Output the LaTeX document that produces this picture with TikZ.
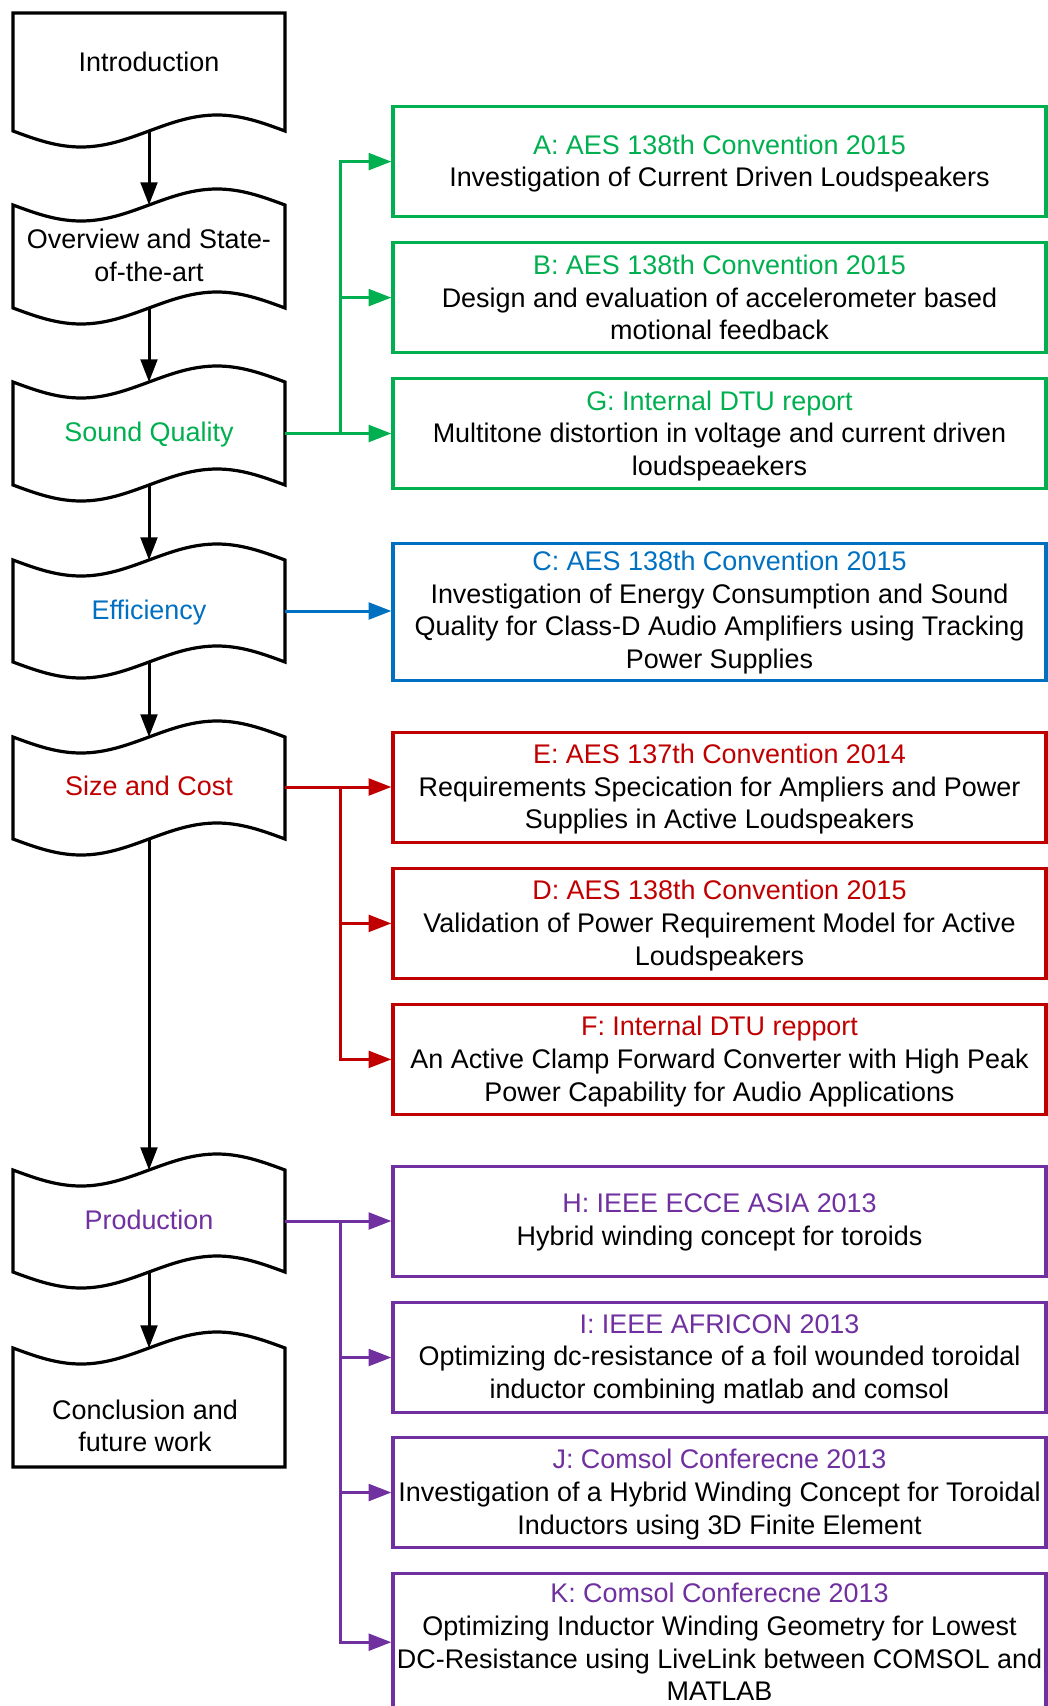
\documentclass[tikz,border=0pt]{standalone}
\usepackage{fontspec}
\setmainfont{Liberation Sans}
\usetikzlibrary{arrows.meta}
\definecolor{cgreen}{HTML}{00B050}
\definecolor{cblue}{HTML}{0070C0}
\definecolor{cred}{HTML}{C00000}
\definecolor{cpurple}{HTML}{7030A0}
\begin{document}
\begin{tikzpicture}[x=0.75pt,y=-0.75pt,
  every node/.style={font=\fontsize{20.2pt}{24.5pt}\selectfont},
  shapeline/.style={draw=black,line width=2.4pt,fill=white},
  lbl/.style={align=center,inner sep=0pt},
  paper/.style={draw=#1,line width=2.4pt,rectangle,minimum width=489.75pt,minimum height=82.5pt,inner sep=0pt},
  tall/.style={minimum height=102.75pt},
  con/.style={line width=2.25pt,draw=#1,-{Triangle[length=17pt,width=12.5pt]}}
]
\useasboundingbox (0,0) rectangle (1048,1706);
\def\A{16}
% ---- left flow shapes ----
% Introduction
\draw[shapeline] (13,13) -- (285,13) -- (285,131) sin (217,131-\A) cos (149,131) sin (81,131+\A) cos (13,131) -- cycle;
\node[lbl] (intro) at (149,62) {Introduction};
\coordinate (introB) at (149,131);
% Overview
\draw[shapeline] (13,205) sin (81,205+\A) cos (149,205) sin (217,205-\A) cos (285,205) -- (285,308) sin (217,308-\A) cos (149,308) sin (81,308+\A) cos (13,308) -- cycle;
\node[lbl] (over) at (149,255.5) {Overview and State-\\of-the-art};
\coordinate (overT) at (149,205);
\coordinate (overB) at (149,308);
% Sound Quality
\draw[shapeline] (13,382) sin (81,382+\A) cos (149,382) sin (217,382-\A) cos (285,382) -- (285,485) sin (217,485-\A) cos (149,485) sin (81,485+\A) cos (13,485) -- cycle;
\node[lbl,text=cgreen] (sq) at (149,435) {Sound Quality};
\coordinate (sqT) at (149,382);
\coordinate (sqB) at (149,485);
\coordinate (sqR) at (285,433.5);
% Efficiency
\draw[shapeline] (13,560) sin (81,560+\A) cos (149,560) sin (217,560-\A) cos (285,560) -- (285,662) sin (217,662-\A) cos (149,662) sin (81,662+\A) cos (13,662) -- cycle;
\node[lbl,text=cblue] (eff) at (149,613) {Efficiency};
\coordinate (effT) at (149,560);
\coordinate (effB) at (149,662);
\coordinate (effR) at (285,611);
% Size and Cost
\draw[shapeline] (13,737) sin (81,737+\A) cos (149,737) sin (217,737-\A) cos (285,737) -- (285,839) sin (217,839-\A) cos (149,839) sin (81,839+\A) cos (13,839) -- cycle;
\node[lbl,text=cred] (size) at (149,786) {Size and Cost};
\coordinate (sizeT) at (149,737);
\coordinate (sizeB) at (149,839);
\coordinate (sizeR) at (285,787);
% Production
\draw[shapeline] (13,1170) sin (81,1170+\A) cos (149,1170) sin (217,1170-\A) cos (285,1170) -- (285,1272) sin (217,1272-\A) cos (149,1272) sin (81,1272+\A) cos (13,1272) -- cycle;
\node[lbl,text=cpurple] (prod) at (149,1220) {Production};
\coordinate (prodT) at (149,1170);
\coordinate (prodB) at (149,1272);
\coordinate (prodR) at (285,1221);
% Conclusion
\draw[shapeline] (13,1348) sin (81,1348+\A) cos (149,1348) sin (217,1348-\A) cos (285,1348) -- (285,1467) -- (13,1467) -- cycle;
\node[lbl] (concl) at (145,1426) {Conclusion and\\future work};
\coordinate (conclT) at (149,1348);

% ---- vertical arrows ----
\draw[con=black] (introB) -- (overT);
\draw[con=black] (overB) -- (sqT);
\draw[con=black] (sqB) -- (effT);
\draw[con=black] (effB) -- (sizeT);
\draw[con=black] (sizeB) -- (prodT);
\draw[con=black] (prodB) -- (conclT);

% ---- right boxes ----
\node[paper=cgreen] (A) at (719.5,161.6) {};
\node[lbl] (At) at ([yshift=-1.5pt]A.center) {\textcolor{cgreen}{A: AES 138th Convention 2015}\\Investigation of Current Driven Loudspeakers};
\node[paper=cgreen] (B) at (719.5,297.6) {};
\node[lbl] (Bt) at ([yshift=0pt]B.center) {\textcolor{cgreen}{B: AES 138th Convention 2015}\\Design and evaluation of accelerometer based\\motional feedback};
\node[paper=cgreen] (G) at (719.5,433.6) {};
\node[lbl] (Gt) at ([yshift=-1.8pt]G.center) {\textcolor{cgreen}{G: Internal DTU report}\\Multitone distortion in voltage and current driven\\loudspeaekers};
\node[paper=cblue,tall] (C) at (719.5,611.6) {};
\node[lbl] (Ct) at ([yshift=-0.8pt]C.center) {\textcolor{cblue}{C: AES 138th Convention 2015}\\Investigation of Energy Consumption and Sound\\Quality for Class-D Audio Amplifiers using Tracking\\Power Supplies};
\node[paper=cred] (E) at (719.5,787.3) {};
\node[lbl] (Et) at ([yshift=-1.5pt]E.center) {\textcolor{cred}{E: AES 137th Convention 2014}\\Requirements Specication for Ampliers and Power\\Supplies in Active Loudspeakers};
\node[paper=cred] (D) at (719.5,923.4) {};
\node[lbl] (Dt) at ([yshift=-1.5pt]D.center) {\textcolor{cred}{D: AES 138th Convention 2015}\\Validation of Power Requirement Model for Active\\Loudspeakers};
\node[paper=cred] (F) at (719.5,1059.4) {};
\node[lbl] (Ft) at ([yshift=-1.5pt]F.center) {\textcolor{cred}{F: Internal DTU repport}\\An Active Clamp Forward Converter with High Peak\\Power Capability for Audio Applications};
\node[paper=cpurple] (H) at (719.5,1221.5) {};
\node[lbl] (Ht) at ([yshift=-0.8pt]H.center) {\textcolor{cpurple}{H: IEEE ECCE ASIA 2013}\\Hybrid winding concept for toroids};
\node[paper=cpurple] (I) at (719.5,1357.5) {};
\node[lbl] (It) at ([yshift=-1.2pt]I.center) {\textcolor{cpurple}{I: IEEE AFRICON 2013}\\Optimizing dc-resistance of a foil wounded toroidal\\inductor combining matlab and comsol};
\node[paper=cpurple] (J) at (719.5,1492.5) {};
\node[lbl] (Jt) at ([yshift=-1.5pt]J.center) {\textcolor{cpurple}{J: Comsol Conferecne 2013}\\Investigation of a Hybrid Winding Concept for Toroidal\\Inductors using 3D Finite Element};
\node[paper=cpurple,tall] (K) at (719.5,1642.2) {};
\node[lbl] (Kt) at (K.center) {\textcolor{cpurple}{K: Comsol Conferecne 2013}\\Optimizing Inductor Winding Geometry for Lowest\\DC-Resistance using LiveLink between COMSOL and\\MATLAB};

% ---- colored connectors ----
\coordinate (gsplit) at (340,433.5);
\draw[con=cgreen] (sqR) -- (sqR -| G.west);
\draw[con=cgreen] (gsplit) |- (A.west);
\draw[con=cgreen] (gsplit) |- (B.west);

\draw[con=cblue] (effR) -- (effR -| C.west);

\coordinate (rsplit) at (340,787);
\draw[con=cred] (sizeR) -- (sizeR -| E.west);
\draw[con=cred] (rsplit) |- (D.west);
\draw[con=cred] (rsplit) |- (F.west);

\coordinate (psplit) at (340,1221);
\draw[con=cpurple] (prodR) -- (prodR -| H.west);
\draw[con=cpurple] (psplit) |- (I.west);
\draw[con=cpurple] (psplit) |- (J.west);
\draw[con=cpurple] (psplit) |- (K.west);
\end{tikzpicture}
\end{document}
